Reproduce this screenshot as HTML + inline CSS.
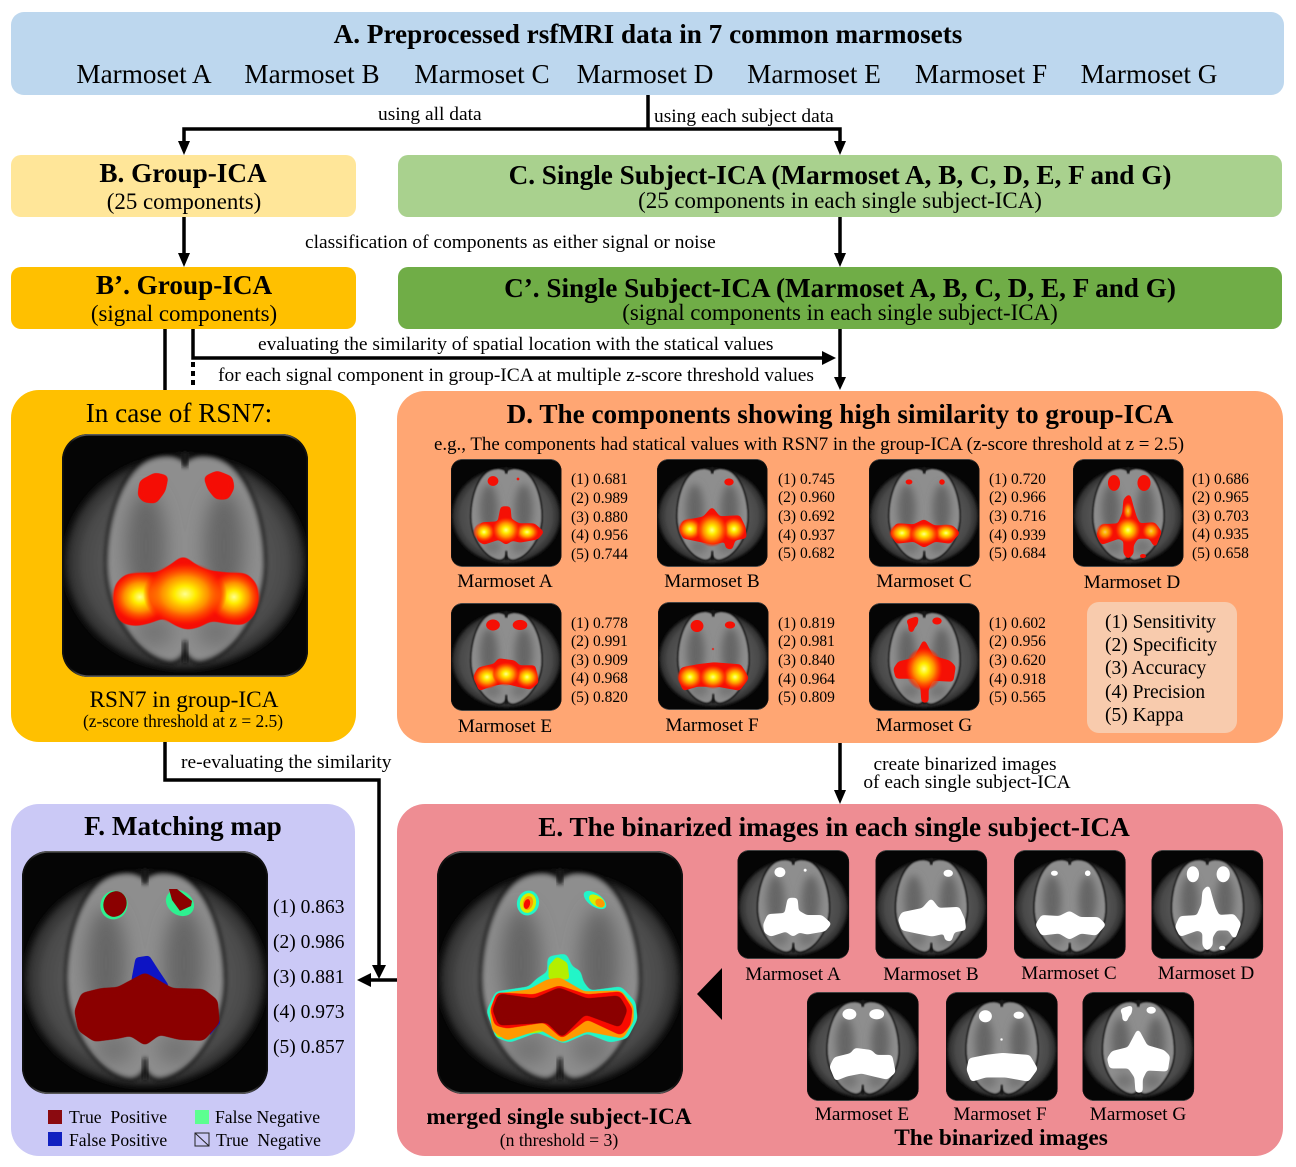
<!DOCTYPE html>
<html><head><meta charset="utf-8">
<style>
html,body{margin:0;padding:0;background:#fff;width:1296px;height:1167px;overflow:hidden}
svg{display:block;position:absolute;left:0;top:0}
text{font-family:"Liberation Serif",serif;fill:#000}
.m{text-anchor:middle}
.b{font-weight:bold}
.t{font-size:27.2px;font-weight:bold;text-anchor:middle}
.s22{font-size:22.9px;text-anchor:middle}
.l19{font-size:19.45px}
.ml{font-size:19.2px;text-anchor:middle}
.ln{stroke:#000;stroke-width:3.5;fill:none}
.fr{stroke-linejoin:round;stroke-width:2.4}
</style></head><body>
<svg width="1296" height="1167" viewBox="0 0 1296 1167" xmlns="http://www.w3.org/2000/svg">
<defs>
<filter id="bl" x="-10%" y="-10%" width="120%" height="120%"><feGaussianBlur stdDeviation="2"/></filter>
<filter id="bl5" x="-60%" y="-60%" width="220%" height="220%"><feGaussianBlur stdDeviation="9"/></filter>
<filter id="goo" x="-30%" y="-30%" width="160%" height="160%" color-interpolation-filters="sRGB"><feGaussianBlur stdDeviation="1.5"/><feColorMatrix type="matrix" values="1 0 0 0 0 0 1 0 0 0 0 0 1 0 0 0 0 0 9 -3"/></filter>
<filter id="goo2" x="-30%" y="-30%" width="160%" height="160%" color-interpolation-filters="sRGB"><feGaussianBlur stdDeviation="2.6"/><feColorMatrix type="matrix" values="1 0 0 0 0 0 1 0 0 0 0 0 1 0 0 0 0 0 9 -3.2"/></filter>
<filter id="goo3" x="-30%" y="-30%" width="160%" height="160%" color-interpolation-filters="sRGB"><feGaussianBlur stdDeviation="4.5"/><feColorMatrix type="matrix" values="1 0 0 0 0 0 1 0 0 0 0 0 1 0 0 0 0 0 9 -3"/></filter>
<radialGradient id="halo" cx=".5" cy=".5" r=".5"><stop offset=".6" stop-color="#565656"/><stop offset=".8" stop-color="#4a4a4a"/><stop offset=".92" stop-color="#303030"/><stop offset="1" stop-color="#111" stop-opacity="0"/></radialGradient>
<linearGradient id="rim" x1="0" x2="0" y1="0" y2="1"><stop offset="0" stop-color="#5a5a5a"/><stop offset=".03" stop-color="#111"/><stop offset=".97" stop-color="#111"/><stop offset="1" stop-color="#5a5a5a"/></linearGradient>
<radialGradient id="hot"><stop offset="0" stop-color="#ffff90"/><stop offset=".25" stop-color="#ffec00"/><stop offset=".55" stop-color="#ff9600" stop-opacity=".95"/><stop offset=".85" stop-color="#ff3000" stop-opacity=".7"/><stop offset="1" stop-color="#ff1000" stop-opacity="0"/></radialGradient>
<path id="bo" d="M123 31C115 22 101 22 88 27C62 38 46 85 46 130C46 178 78 222 108 226C116 226 121 220 123 210C125 220 130 226 138 226C168 222 201 178 201 130C201 85 184 38 158 27C145 22 131 22 123 31Z"/>
<clipPath id="boc"><use href="#bo"/></clipPath>
<clipPath id="imgc"><rect x="0" y="0" width="246" height="243" rx="26"/></clipPath>

<g id="brain">
 <rect x="0" y="0" width="246" height="243" rx="26" fill="#050505"/>
 <g clip-path="url(#imgc)">
 <g filter="url(#bl)">
  <ellipse cx="123" cy="128" rx="126" ry="112" fill="url(#halo)"/>
  <use href="#bo" fill="#0a0a0a" stroke="#0a0a0a" stroke-width="8"/>
  <use href="#bo" fill="#8e8e8e"/>
 </g>
 </g>
 <g clip-path="url(#boc)">
  <g filter="url(#bl5)">
   <ellipse cx="84" cy="112" rx="20" ry="55" fill="#666"/>
   <ellipse cx="162" cy="112" rx="20" ry="55" fill="#666"/>
   <ellipse cx="92" cy="198" rx="20" ry="16" fill="#747474"/>
   <ellipse cx="154" cy="198" rx="20" ry="16" fill="#747474"/>
  </g>
 </g>
 <g filter="url(#bl)"><rect x="121" y="207" width="4" height="22" fill="#111"/><rect x="120" y="18" width="6" height="15" fill="#161616"/></g>
 <rect x=".8" y=".8" width="244.400" height="241.400" rx="26" fill="none" stroke="url(#rim)" stroke-width="1.6"/>
</g>

<g id="sA" class="fr"><polygon points="27,74 31,65 48,64 51,49 58,49 59,61 68,66 83,66 91,73 86,79 69,82 61,80 55,84 48,79 33,84 28,81"/><ellipse cx="42" cy="22" rx="4" ry="3.500"/><circle cx="67" cy="20" r=".7"/></g>
<g id="sB" class="fr"><polygon points="24,69 27,63 47,59 55,50 62,59 82,58 87,69 88,78 77,80 74,89 70,88 69,81 56,84 41,81 27,78"/><ellipse cx="72" cy="23" rx="3.500" ry="2"/></g>
<g id="sC" class="fr"><polygon points="23,74 28,66 45,67 55,62 65,68 83,68 89,74 81,83 66,81 55,87 45,81 28,83"/><ellipse cx="40" cy="23" rx="2.500" ry="1"/><circle cx="73" cy="23" r="1.600"/></g>
<g id="sD" class="fr"><polygon points="25,76 29,67 46,66 51,54 52,41 56,37 59,48 62,58 66,66 81,65 87,73 82,86 77,78 64,78 59,86 59,94 55,98 52,94 52,81 46,78 29,84"/><ellipse cx="41" cy="24" rx="4.500" ry="6.500"/><ellipse cx="71" cy="24" rx="5" ry="6.500"/><ellipse cx="70" cy="97" rx="2.500" ry=".6"/></g>
<g id="sE" class="fr"><polygon points="24,74 28,66 44,62 48,57 63,59 68,64 83,64 86,79 79,85 66,82 54,79 39,82 29,86"/><ellipse cx="42" cy="22" rx="5.500" ry="4"/><ellipse cx="69" cy="22" rx="6" ry="3.500"/></g>
<g id="sF" class="fr"><polygon points="22,77 24,67 39,64 56,62 82,64 89,76 81,87 59,83 39,83 26,87"/><ellipse cx="39" cy="24" rx="5" ry="4.500"/><ellipse cx="72" cy="23" rx="4" ry="2"/><circle cx="55" cy="47" r=".6"/></g>
<g id="sG" class="fr"><polygon points="26,66 30,60 46,56 55,39 63,54 80,59 85,64 83,77 63,76 58,86 58,98 54,98 53,84 46,74 28,74"/><polygon points="39,18 48,15 47,21 44,24 43,28 41,27 41,22"/><ellipse cx="68" cy="18" rx="3.500" ry="2"/></g>
</defs>

<!-- boxes -->
<rect x="11" y="12" width="1273" height="83" rx="13" fill="#BDD7EE"/>
<rect x="11" y="155" width="345" height="62" rx="10" fill="#FFE699"/>
<rect x="398" y="155" width="884" height="62" rx="10" fill="#A9D18E"/>
<rect x="11" y="267" width="345" height="62" rx="10" fill="#FFC000"/>
<rect x="398" y="267" width="884" height="62" rx="10" fill="#70AD47"/>
<rect x="11" y="390" width="345" height="352" rx="28" fill="#FFC000"/>
<rect x="397" y="391" width="886" height="352" rx="28" fill="#FFA673"/>
<rect x="11" y="804" width="344" height="352" rx="28" fill="#CBC9F6"/>
<rect x="397" y="804" width="886" height="352" rx="28" fill="#EE8D93"/>
<rect x="1087" y="602" width="150" height="131" rx="12" fill="#F8CBAD"/>

<!-- connectors -->
<path class="ln" d="M648 95V129M184 143V129H840V143"/>
<path d="M178 141H190L184 155ZM834 141H846L840 155Z"/>
<path class="ln" d="M184 217V256M840 217V256M165 329V390M193 329V358H822M840 329V380M840 743V792M165 742V780H379V966M397 980H368"/>
<path d="M178 253H190L184 267ZM834 253H846L840 267ZM822 351V365L836 358ZM834 377H846L840 390ZM834 790H846L840 804ZM372 965H386L379 979ZM371 973V987L357 980ZM722 968V1020L697 994Z"/>
<path d="M191 362h4v5h-4zM191 371h4v5h-4zM191 380h4v5h-4z"/>

<!-- RSN7 -->
<g transform="translate(62,434)">
 <use href="#brain"/>
 <g fill="#f50d05">
  <polygon filter="url(#goo3)" transform="translate(124 160) scale(.945) translate(-124 -160)" points="48,165 50,150 60,140 75,139 95,138 108,130 121,120 134,130 147,136 172,139 188,139 198,150 200,165 196,182 185,192 165,190 151,187 138,194 125,197 112,192 101,184 85,190 71,193 56,190 50,180"/>
  <polygon filter="url(#goo2)" points="76,62 78,47 93,39 106,42 103,57 94,69 82,68"/>
  <polygon filter="url(#goo2)" points="142,43 155,37 170,43 172,54 166,65 154,65 146,55"/>
 </g>
 <ellipse cx="78" cy="163" rx="29" ry="26" fill="url(#hot)"/>
 <ellipse cx="172" cy="163" rx="27" ry="26" fill="url(#hot)"/>
 <ellipse cx="123" cy="160" rx="42" ry="32" fill="url(#hot)"/>
</g>

<!-- D images -->
<g transform="translate(451,459)"><use href="#brain" transform="scale(.449,.444)"/><use href="#sA" fill="#f51005" stroke="#f51005" filter="url(#goo)"/><ellipse cx="33" cy="73" rx="11" ry="10" fill="url(#hot)"/><ellipse cx="76" cy="73" rx="12" ry="9" fill="url(#hot)"/><ellipse cx="55" cy="71" rx="14" ry="13" fill="url(#hot)"/></g>
<g transform="translate(657,459)"><use href="#brain" transform="scale(.449,.444)"/><use href="#sB" fill="#f51005" stroke="#f51005" filter="url(#goo)"/><ellipse cx="33" cy="70" rx="12" ry="11" fill="url(#hot)"/><ellipse cx="77" cy="70" rx="12" ry="12" fill="url(#hot)"/><ellipse cx="55" cy="71" rx="16" ry="17" fill="url(#hot)"/></g>
<g transform="translate(869,459)"><use href="#brain" transform="scale(.449,.444)"/><use href="#sC" fill="#f51005" stroke="#f51005" filter="url(#goo)"/><ellipse cx="33" cy="74" rx="13" ry="10" fill="url(#hot)"/><ellipse cx="77" cy="74" rx="12" ry="9" fill="url(#hot)"/><ellipse cx="55" cy="75" rx="15" ry="11" fill="url(#hot)"/></g>
<g transform="translate(1073,459)"><use href="#brain" transform="scale(.449,.444)"/><use href="#sD" fill="#f51005" stroke="#f51005" filter="url(#goo)"/><ellipse cx="32" cy="73" rx="9" ry="9" fill="url(#hot)" opacity=".75"/><ellipse cx="78" cy="72" rx="9" ry="9" fill="url(#hot)" opacity=".75"/><ellipse cx="55" cy="52" rx="5" ry="9" fill="url(#hot)" opacity=".7"/><ellipse cx="55" cy="71" rx="13" ry="13" fill="url(#hot)"/></g>
<g transform="translate(451,603)"><use href="#brain" transform="scale(.449,.444)"/><use href="#sE" fill="#f51005" stroke="#f51005" filter="url(#goo)"/><ellipse cx="36" cy="74" rx="14" ry="12" fill="url(#hot)"/><ellipse cx="76" cy="74" rx="12" ry="11" fill="url(#hot)"/><ellipse cx="55" cy="71" rx="14" ry="12" fill="url(#hot)"/></g>
<g transform="translate(658,602)"><use href="#brain" transform="scale(.449,.444)"/><use href="#sF" fill="#f51005" stroke="#f51005" filter="url(#goo)"/><ellipse cx="32" cy="75" rx="13" ry="12" fill="url(#hot)"/><ellipse cx="77" cy="75" rx="13" ry="12" fill="url(#hot)"/><ellipse cx="55" cy="75" rx="14" ry="12" fill="url(#hot)"/></g>
<g transform="translate(869,603)"><use href="#brain" transform="scale(.449,.444)"/><use href="#sG" fill="#f51005" stroke="#f51005" filter="url(#goo)"/><ellipse cx="55" cy="66" rx="19" ry="22" fill="url(#hot)"/></g>

<!-- F image -->
<g transform="translate(22,851)">
 <use href="#brain"/>
 <polygon filter="url(#goo)" points="110,128 114,107 127,105 136,119 148,137 123,126 110,133" fill="#0d14c4"/>
 <path d="M193 150L198 172L188 184Z" fill="#0d14c4"/>
 <polygon filter="url(#goo2)" transform="translate(124 160) scale(.975) translate(-124 -160)" points="51,160 58,142 78,137 95,136 123,121 151,137 183,138 197,149 199,172 183,190 158,189 138,184 123,195 108,185 95,188 71,191 55,180" fill="#8b0000"/>
 <ellipse cx="92" cy="54" rx="13.500" ry="14.500" fill="#2ef090" transform="rotate(20 92 54)"/>
 <ellipse cx="93" cy="53" rx="11.500" ry="13" fill="#8b0000" transform="rotate(20 93 53)"/>
 <ellipse cx="158" cy="52" rx="15" ry="12" fill="#2ef090" transform="rotate(35 158 52)"/>
 <polygon points="147,38 155,38 170,50 169,55 158,60 150,49" fill="#8b0000"/>
</g>

<!-- merged -->
<g transform="translate(437,851)">
 <use href="#brain"/>
 <polygon filter="url(#goo2)" points="50,160 59,141 92,136 100,128 111,121 111,106 129,103 135,116 143,120 146,131 153,140 184,136 198,151 200,168 190,187 173,191 150,182 127,192 100,181 73,191 59,186" fill="#22f5c8"/>
 <g filter="url(#goo)">
 <polygon points="120,106 130,112 132,128 112,128 112,115" fill="#b4ef00"/>
 <polygon points="56,168 62,180 76,186 98,176 110,180 60,186" fill="#b4ef00"/>
 </g>
 <polygon filter="url(#goo2)" points="53,159 60,143 92,139 110,129 123,127 147,141 184,140 196,155 196,170 186,187 150,180 125,191 103,178 70,189 56,180" fill="#ff9900"/>
 <polygon filter="url(#goo2)" points="54,159 60,142 97,144 122,135 150,144 184,141 195,158 193,174 184,184 150,168 125,187 107,171 70,177 58,174" fill="#f80a00"/>
 <polygon filter="url(#goo2)" points="56,159 62,143 97,148 122,137 150,148 182,145 190,159 183,176 148,163 125,186 110,171 97,172 62,174" fill="#8b0000"/>
 <ellipse cx="91" cy="52" rx="11" ry="12.500" fill="#22f5c8" transform="rotate(15 91 52)"/>
 <ellipse cx="91" cy="52" rx="8" ry="10" fill="#d8ef00" transform="rotate(15 91 52)"/>
 <ellipse cx="91" cy="52" rx="5" ry="7" fill="#ff9900" transform="rotate(15 91 52)"/>
 <ellipse cx="90" cy="53" rx="3" ry="5" fill="#f80a00" transform="rotate(15 90 53)"/>
 <ellipse cx="158" cy="49" rx="13" ry="6.500" fill="#22f5c8" transform="rotate(35 158 49)"/>
 <ellipse cx="160" cy="50" rx="9" ry="5" fill="#d8ef00" transform="rotate(35 160 50)"/>
 <ellipse cx="163" cy="52" rx="5" ry="4" fill="#ff9900" transform="rotate(35 163 52)"/>
</g>

<!-- binarized -->
<g transform="translate(737.500,850) scale(1.01,1.01)"><use href="#brain" transform="scale(.449,.444)"/><use href="#sA" fill="#fff" stroke="#fff" filter="url(#goo)"/></g>
<g transform="translate(875.500,850) scale(1.01,1.01)"><use href="#brain" transform="scale(.449,.444)"/><use href="#sB" fill="#fff" stroke="#fff" filter="url(#goo)"/></g>
<g transform="translate(1014,850) scale(1.01,1.01)"><use href="#brain" transform="scale(.449,.444)"/><use href="#sC" fill="#fff" stroke="#fff" filter="url(#goo)"/></g>
<g transform="translate(1151.500,850) scale(1.01,1.01)"><use href="#brain" transform="scale(.449,.444)"/><use href="#sD" fill="#fff" stroke="#fff" filter="url(#goo)"/></g>
<g transform="translate(807,992) scale(1.01,1.01)"><use href="#brain" transform="scale(.449,.444)"/><use href="#sE" fill="#fff" stroke="#fff" filter="url(#goo)"/></g>
<g transform="translate(946,992) scale(1.01,1.01)"><use href="#brain" transform="scale(.449,.444)"/><use href="#sF" fill="#fff" stroke="#fff" filter="url(#goo)"/></g>
<g transform="translate(1082.500,992) scale(1.01,1.01)"><use href="#brain" transform="scale(.449,.444)"/><use href="#sG" fill="#fff" stroke="#fff" filter="url(#goo)"/></g>

<!-- text -->
<text x="648" y="43" class="t">A. Preprocessed rsfMRI data in 7 common marmosets</text>
<g style="font-size:27.2px;text-anchor:middle">
<text x="144" y="83">Marmoset A</text><text x="312" y="83">Marmoset B</text><text x="482" y="83">Marmoset C</text><text x="645" y="83">Marmoset D</text><text x="814" y="83">Marmoset E</text><text x="981" y="83">Marmoset F</text><text x="1149" y="83">Marmoset G</text>
</g>
<text x="378" y="120" class="l19">using all data</text>
<text x="654" y="122" class="l19">using each subject data</text>
<text x="183" y="182" class="t">B. Group-ICA</text>
<text x="184" y="209" class="s22">(25 components)</text>
<text x="840" y="184" class="t">C. Single Subject-ICA (Marmoset A, B, C, D, E, F and G)</text>
<text x="840" y="208" class="s22">(25 components in each single subject-ICA)</text>
<text x="305" y="248" class="l19">classification of components as either signal or noise</text>
<text x="184" y="294" class="t">B’. Group-ICA</text>
<text x="184" y="321" class="s22">(signal components)</text>
<text x="840" y="297" class="t">C’. Single Subject-ICA (Marmoset A, B, C, D, E, F and G)</text>
<text x="840" y="320" class="s22">(signal components in each single subject-ICA)</text>
<text x="258" y="350" class="l19">evaluating the similarity of spatial location with the statical values</text>
<text x="218" y="381" class="l19">for each signal component in group-ICA at multiple z-score threshold values</text>
<text x="179" y="422" class="m" style="font-size:27.2px">In case of RSN7:</text>
<text x="184" y="707" class="m" style="font-size:23.3px">RSN7 in group-ICA</text>
<text x="183" y="727" class="m" style="font-size:17.4px">(z-score threshold at z = 2.5)</text>
<text x="840" y="423" class="t">D. The components showing high similarity to group-ICA</text>
<text x="809" y="450" class="m" style="font-size:18.9px">e.g., The components had statical values with RSN7 in the group-ICA (z-score threshold at z = 2.5)</text>

<text x="505" y="587" class="ml">Marmoset A</text><text x="712" y="587" class="ml">Marmoset B</text><text x="924" y="587" class="ml">Marmoset C</text><text x="1132" y="588" class="ml">Marmoset D</text>
<text x="505" y="732" class="ml">Marmoset E</text><text x="712" y="731" class="ml">Marmoset F</text><text x="924" y="731" class="ml">Marmoset G</text>

<g style="font-size:15.500px">
<text x="571" y="484">(1) 0.681</text><text x="571" y="503">(2) 0.989</text><text x="571" y="522">(3) 0.880</text><text x="571" y="540">(4) 0.956</text><text x="571" y="559">(5) 0.744</text>
<text x="778" y="484">(1) 0.745</text><text x="778" y="502">(2) 0.960</text><text x="778" y="521">(3) 0.692</text><text x="778" y="540">(4) 0.937</text><text x="778" y="558">(5) 0.682</text>
<text x="989" y="484">(1) 0.720</text><text x="989" y="502">(2) 0.966</text><text x="989" y="521">(3) 0.716</text><text x="989" y="540">(4) 0.939</text><text x="989" y="558">(5) 0.684</text>
<text x="1192" y="484">(1) 0.686</text><text x="1192" y="502">(2) 0.965</text><text x="1192" y="521">(3) 0.703</text><text x="1192" y="539">(4) 0.935</text><text x="1192" y="558">(5) 0.658</text>
<text x="571" y="628">(1) 0.778</text><text x="571" y="646">(2) 0.991</text><text x="571" y="665">(3) 0.909</text><text x="571" y="683">(4) 0.968</text><text x="571" y="702">(5) 0.820</text>
<text x="778" y="628">(1) 0.819</text><text x="778" y="646">(2) 0.981</text><text x="778" y="665">(3) 0.840</text><text x="778" y="684">(4) 0.964</text><text x="778" y="702">(5) 0.809</text>
<text x="989" y="628">(1) 0.602</text><text x="989" y="646">(2) 0.956</text><text x="989" y="665">(3) 0.620</text><text x="989" y="684">(4) 0.918</text><text x="989" y="702">(5) 0.565</text>
</g>
<g style="font-size:19.500px">
<text x="1105" y="628">(1) Sensitivity</text><text x="1105" y="651">(2) Specificity</text><text x="1105" y="674">(3) Accuracy</text><text x="1105" y="698">(4) Precision</text><text x="1105" y="721">(5) Kappa</text>
</g>

<text x="181" y="768" class="l19">re-evaluating the similarity</text>
<text x="965" y="770" class="m" style="font-size:19.4px">create binarized images</text>
<text x="967" y="788" class="m" style="font-size:19.4px">of each single subject-ICA</text>

<text x="183" y="835" class="t">F. Matching map</text>
<text x="834" y="836" class="t">E. The binarized images in each single subject-ICA</text>

<g style="font-size:19.500px">
<text x="273" y="913">(1) 0.863</text><text x="273" y="948">(2) 0.986</text><text x="273" y="983">(3) 0.881</text><text x="273" y="1018">(4) 0.973</text><text x="273" y="1053">(5) 0.857</text>
</g>

<rect x="48" y="1110" width="14" height="14" fill="#8b0a10"/>
<rect x="48" y="1132" width="14" height="14" fill="#1020c0"/>
<rect x="195" y="1110" width="14" height="14" fill="#5cff90"/>
<rect x="195" y="1133" width="14" height="13" fill="none" stroke="#222" stroke-width="1"/><path d="M195 1133L209 1146" stroke="#222" stroke-width="1"/>
<g style="font-size:17.600px">
<text x="69" y="1123" xml:space="preserve">True  Positive</text>
<text x="69" y="1146">False Positive</text>
<text x="215" y="1123">False Negative</text>
<text x="216" y="1146" xml:space="preserve">True  Negative</text>
</g>

<text x="793" y="980" class="ml">Marmoset A</text><text x="931" y="980" class="ml">Marmoset B</text><text x="1069" y="979" class="ml">Marmoset C</text><text x="1206" y="979" class="ml">Marmoset D</text>
<text x="862" y="1120" class="ml">Marmoset E</text><text x="1000" y="1120" class="ml">Marmoset F</text><text x="1138" y="1120" class="ml">Marmoset G</text>
<text x="1001" y="1145" class="m b" style="font-size:23.3px">The binarized images</text>
<text x="559" y="1124" class="m b" style="font-size:23.3px">merged single subject-ICA</text>
<text x="559" y="1146" class="m" style="font-size:17.700px">(n threshold = 3)</text>
</svg>
</body></html>
